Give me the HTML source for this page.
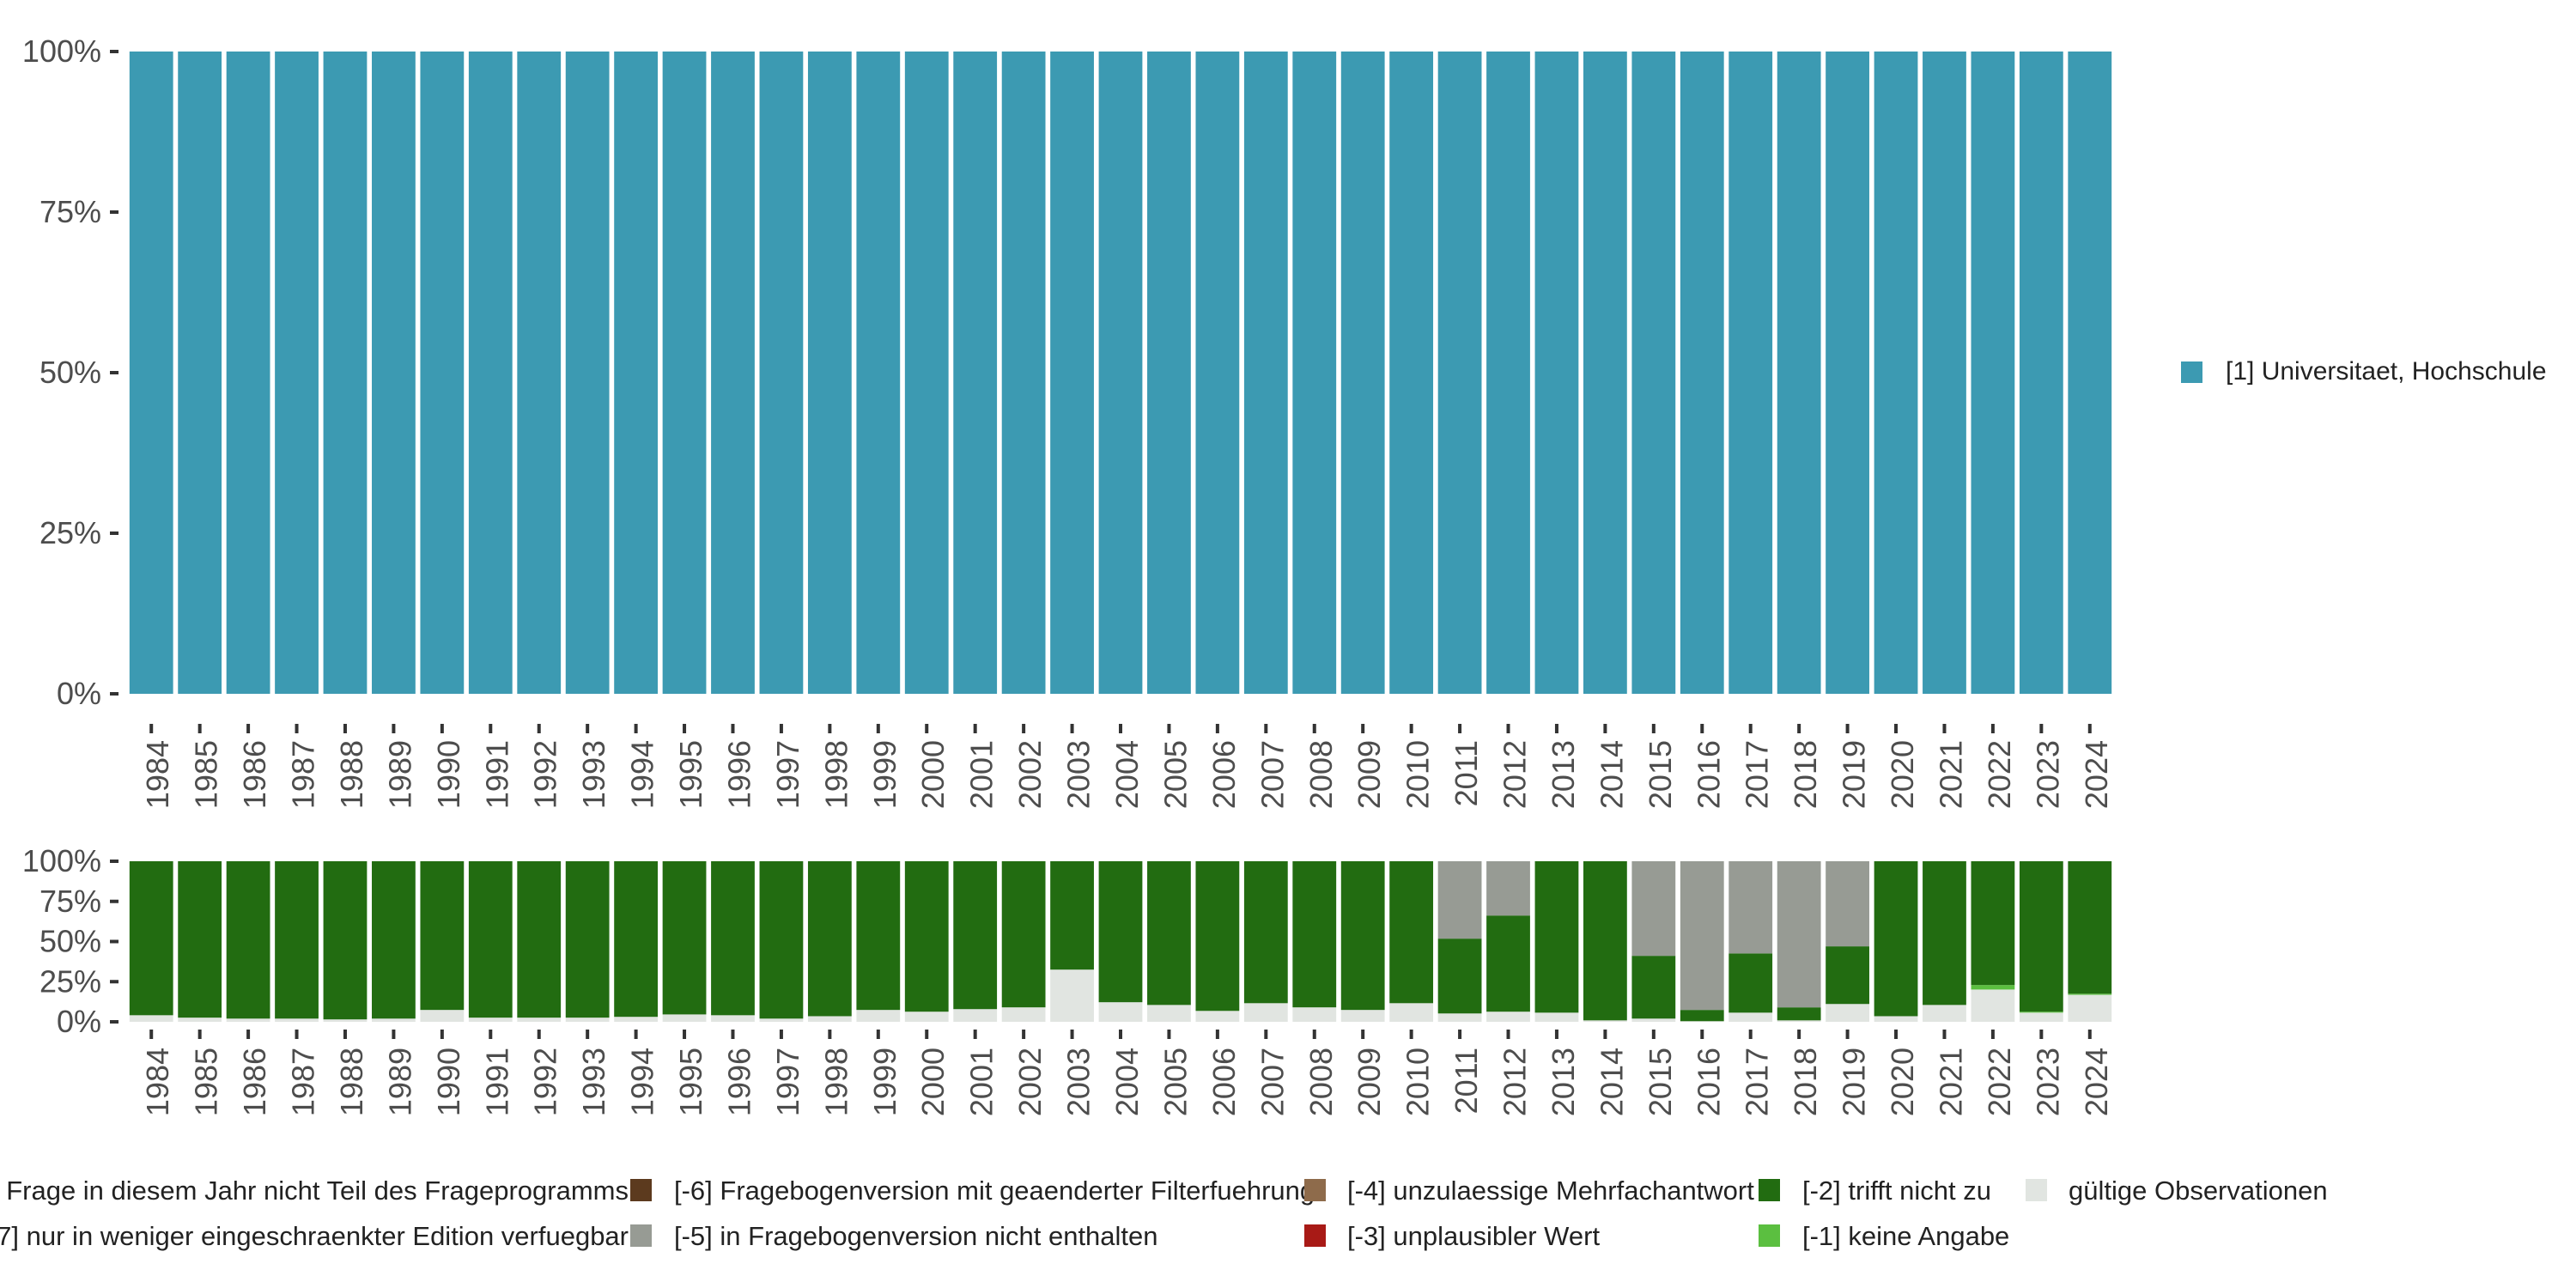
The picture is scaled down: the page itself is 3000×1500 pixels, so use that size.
<!DOCTYPE html>
<html><head><meta charset="utf-8"><style>
html,body{margin:0;padding:0;background:#fff;}
svg{display:block;font-family:"Liberation Sans","DejaVu Sans",sans-serif;}
</style></head><body>
<svg id="chart" width="3000" height="1500" viewBox="0 0 3000 1500" xmlns="http://www.w3.org/2000/svg">
<g id="top"></g>
<g id="bottom"></g>
<g id="legend">
 <rect x="2540" y="421" width="25" height="25" fill="#3C9AB2"/>
 <text x="2592" y="442" font-size="30" fill="#222">[1] Universitaet, Hochschule</text>

 <text x="732" y="1397" font-size="31" fill="#222" text-anchor="end">[-8] Frage in diesem Jahr nicht Teil des Frageprogramms</text>
 <text x="732" y="1450" font-size="31" fill="#222" text-anchor="end">[-7] nur in weniger eingeschraenkter Edition verfuegbar</text>

 <rect x="734" y="1373" width="25" height="26" fill="#5C3A1E"/>
 <text x="785" y="1397" font-size="31" fill="#222">[-6] Fragebogenversion mit geaenderter Filterfuehrung</text>
 <rect x="734" y="1426" width="25" height="26" fill="#979B94"/>
 <text x="785" y="1450" font-size="31" fill="#222">[-5] in Fragebogenversion nicht enthalten</text>

 <rect x="1519" y="1373" width="25" height="26" fill="#8E6B4B"/>
 <text x="1569" y="1397" font-size="31" fill="#222">[-4] unzulaessige Mehrfachantwort</text>
 <rect x="1519" y="1426" width="25" height="26" fill="#A81A16"/>
 <text x="1569" y="1450" font-size="31" fill="#222">[-3] unplausibler Wert</text>

 <rect x="2048" y="1373" width="25" height="26" fill="#226C11"/>
 <text x="2099" y="1397" font-size="31" fill="#222">[-2] trifft nicht zu</text>
 <rect x="2048" y="1426" width="25" height="26" fill="#5BBF40"/>
 <text x="2099" y="1450" font-size="31" fill="#222">[-1] keine Angabe</text>

 <rect x="2359" y="1373" width="25" height="26" fill="#E1E5E1"/>
 <text x="2409" y="1397" font-size="31" fill="#222">gültige Observationen</text>
</g>
</svg>
<script>
const years = ["1984","1985","1986","1987","1988","1989","1990","1991","1992","1993","1994","1995","1996","1997","1998","1999","2000","2001","2002","2003","2004","2005","2006","2007","2008","2009","2010","2011","2012","2013","2014","2015","2016","2017","2018","2019","2020","2021","2022","2023","2024"];
const uniShare = [100,100,100,100,100,100,100,100,100,100,100,100,100,100,100,100,100,100,100,100,100,100,100,100,100,100,100,100,100,100,100,100,100,100,100,100,100,100,100,100,100];
const validPct = [4.1,2.6,2.0,2.0,1.5,2.0,7.4,2.6,2.6,2.6,3.1,4.6,4.1,2.0,3.5,7.4,6.3,7.9,9.0,32.5,12.2,10.5,6.8,11.6,9.0,7.4,11.6,5.2,6.3,5.7,0.9,2.0,0.4,5.7,0.9,11.1,3.5,10.5,20.1,5.7,16.8];
const keineAngabePct = [0,0,0,0,0,0,0,0,0,0,0,0,0,0,0,0,0,0,0,0,0,0,0,0,0,0,0,0,0,0,0,0,0,0,0,0,0,0,2.8,0.6,0.7];
const trifftNichtPct = [95.9,97.4,98.0,98.0,98.5,98.0,92.6,97.4,97.4,97.4,96.9,95.4,95.9,98.0,96.5,92.6,93.7,92.1,91.0,67.5,87.8,89.5,93.2,88.4,91.0,92.6,88.4,46.6,59.9,94.3,99.1,39.1,7.0,36.9,8.1,35.9,96.5,89.5,77.1,93.7,82.5];
const nichtEnthaltenPct = [0,0,0,0,0,0,0,0,0,0,0,0,0,0,0,0,0,0,0,0,0,0,0,0,0,0,0,48.2,33.8,0,0,58.9,92.6,57.4,91.0,53.0,0,0,0,0,0];
const yTicks = [0,25,50,75,100];
const yTickLabels = ["0%","25%","50%","75%","100%"];

const NS="http://www.w3.org/2000/svg";
const X0=148, X1=2462, band=(X1-X0)/years.length, bw=band*0.9;
function xLeft(i){return X0+i*band+(band-bw)/2;}
function xCenter(i){return X0+i*band+band/2;}
function mk(tag,attrs,parent){const e=document.createElementNS(NS,tag);for(const k in attrs)e.setAttribute(k,attrs[k]);parent.appendChild(e);return e;}

function panel(g,yTop,yBot,stacks,tickY0,labelTop,pname){
  const ys=v=>yBot-(v/100)*(yBot-yTop);
  yTicks.forEach((t,k)=>{
    const tk=mk('rect',{x:128,y:ys(t)-2,width:10,height:4,fill:'#333'},g);
    
    
    const tx=mk('text',{x:118,y:ys(t)+12,'font-size':36,fill:'#4d4d4d','text-anchor':'end'},g);
    tx.textContent=yTickLabels[k];
    
    
  });
  years.forEach((yr,i)=>{
    let cum=0;
    stacks.forEach(s=>{
      const v=s.data[i];
      if(v>0){
        const r=mk('rect',{x:xLeft(i),y:ys(cum+v),width:bw,height:ys(cum)-ys(cum+v),fill:s.color},g);
        
        
      }
      cum+=v;
    });
    const c=xCenter(i);
    const tk=mk('rect',{x:c-2,y:tickY0,width:4,height:11,fill:'#333'},g);
    
    
    const tx=mk('text',{x:0,y:0,'font-size':36,fill:'#4d4d4d','text-anchor':'end',transform:`translate(${c+20},${labelTop}) rotate(-90)`},g);
    tx.textContent=yr;
    
    
  });
}
panel(document.getElementById('top'),60,808,[{name:'universitaet',data:uniShare,color:'#3C9AB2'}],843,862,'top');
panel(document.getElementById('bottom'),1003,1190,[
  {name:'valid',data:validPct,color:'#E1E5E1'},
  {name:'keine-angabe',data:keineAngabePct,color:'#5BBF40'},
  {name:'trifft-nicht-zu',data:trifftNichtPct,color:'#226C11'},
  {name:'nicht-enthalten',data:nichtEnthaltenPct,color:'#979B94'}
],1199,1220,'bottom');
</script>
</body></html>
